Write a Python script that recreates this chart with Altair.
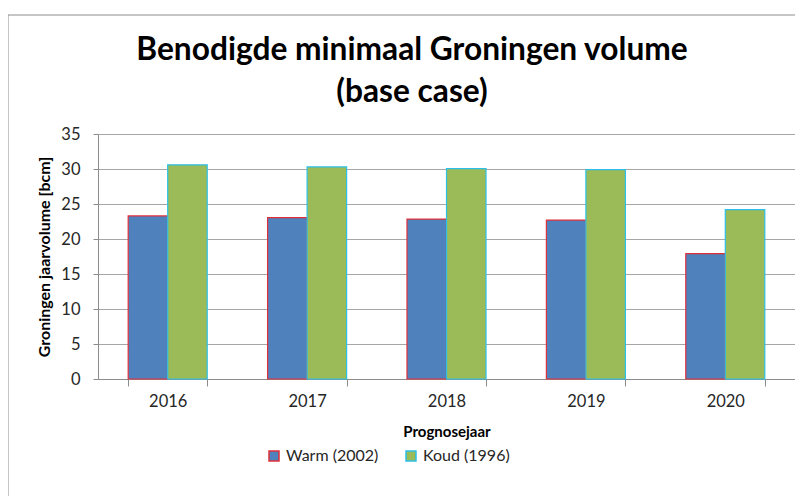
import altair as alt
import pandas as pd

years = ["2016", "2017", "2018", "2019", "2020"]
series = ["Warm (2002)", "Koud (1996)"]
warm = [23.3, 23.05, 22.85, 22.7, 17.9]
koud = [30.6, 30.3, 30.05, 29.9, 24.2]
y_ticks = [0, 5, 10, 15, 20, 25, 30, 35]
title_lines = ["Benodigde minimaal Groningen volume", "(base case)"]

rows = []
for i, yr in enumerate(years):
    rows.append({"jaar": yr, "reeks": series[0], "waarde": warm[i]})
    rows.append({"jaar": yr, "reeks": series[1], "waarde": koud[i]})
df = pd.DataFrame(rows)

FONT = "Lato"
TXT = "#262626"
fill_scale = alt.Scale(domain=series, range=["#4F81BD", "#9BBB59"])
stroke_scale = alt.Scale(domain=series, range=["#E0303A", "#2CC0E8"])

legend = alt.Legend(
    title=None, orient="none", direction="horizontal", legendX=168, legendY=314,
    symbolType="square", symbolSize=100, symbolStrokeWidth=1.5,
    labelFont=FONT, labelFontSize=16, labelColor=TXT, columnPadding=24,
)

bars = alt.Chart(df).mark_bar(strokeWidth=1.2).encode(
    x=alt.X("jaar:N", sort=years, title="Prognosejaar",
            scale=alt.Scale(paddingInner=0.433, paddingOuter=0.2165),
            axis=alt.Axis(labelAngle=0, tickBand="extent", tickSize=7, labelPadding=7,
                          titlePadding=15)),
    xOffset=alt.XOffset("reeks:N", sort=series, scale=alt.Scale(paddingInner=0, paddingOuter=0)),
    y=alt.Y("waarde:Q", title="Groningen jaarvolume [bcm]",
            scale=alt.Scale(domain=[0, 35], nice=False),
            axis=alt.Axis(values=y_ticks, tickSize=5, labelPadding=13, titlePadding=8,
                          titleFontSize=16)),
    color=alt.Color("reeks:N", sort=series, scale=fill_scale, legend=legend),
    stroke=alt.Stroke("reeks:N", sort=series, scale=stroke_scale, legend=legend),
)

frame = alt.Chart(pd.DataFrame({"f": [0]})).mark_rect(
    fill=None, stroke="#8C8C8C", strokeWidth=1
).encode(
    x=alt.value(-90), x2=alt.value(760), y=alt.value(-119), y2=alt.value(420)
)

title = alt.Chart(pd.DataFrame({"f": [0]})).mark_text(
    text=title_lines, font=FONT, fontSize=31.7, fontWeight="bold", color="#000000",
    align="center", baseline="alphabetic", lineHeight=42
).encode(x=alt.value(314), y=alt.value(-74))

chart = alt.layer(frame, title, bars).properties(
    width=697, height=245,
    autosize=alt.AutoSizeParams(type="none"),
    padding={"left": 90, "top": 126, "right": 0, "bottom": 117},
).configure_view(stroke=None).configure_axis(
    labelFont=FONT, labelFontSize=16.5, labelColor=TXT,
    titleFont=FONT, titleFontSize=15, titleFontWeight="bold", titleColor="#000000",
    domainColor="#8C8C8C", tickColor="#8C8C8C", gridColor="#A6A6A6",
).configure_axisX(grid=False).configure_axisY(grid=True)

chart.save("out.html", embed_options={"renderer": "svg", "actions": False})
